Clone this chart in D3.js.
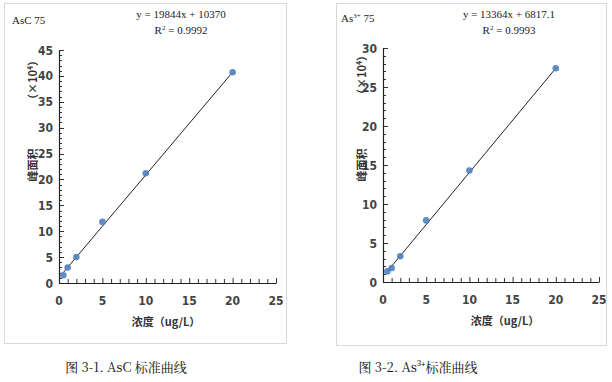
<!DOCTYPE html>
<html><head><meta charset="utf-8">
<script src="https://cdn.jsdelivr.net/npm/d3@7/dist/d3.min.js"></script>
<style>
body{margin:0;background:#fff;}
svg{display:block;}
.tick-lab{font-family:"DejaVu Sans Condensed","DejaVu Sans",sans-serif;font-stretch:condensed;font-size:12px;fill:#444;font-weight:bold;}
.ser{font-family:"Liberation Serif","DejaVu Serif",serif;}
</style></head>
<body>
<svg id="c" width="612" height="382"></svg>
<script>
// ---- data ----
const concentrations = [0.5, 1, 2, 5, 10, 20];
const ascArea = [1.5, 3.0, 5.0, 11.8, 21.2, 40.7];      // ×10^4
const as3Area = [1.36, 1.8, 3.3, 7.9, 14.3, 27.4];     // ×10^4
const ascFit = {slope: 19844, intercept: 10370, r2: "0.9992"};
const as3Fit = {slope: 13364, intercept: 6817.1, r2: "0.9993"};
const xTicks = [0, 5, 10, 15, 20, 25];
const ascYTicks = [0, 5, 10, 15, 20, 25, 30, 35, 40, 45];
const as3YTicks = [0, 5, 10, 15, 20, 25, 30];
const panelTitles = ["AsC 75", "As3+ 75"];
const captions = ["图 3-1. AsC 标准曲线", "图 3-2. As³⁺标准曲线"];

const svg = d3.select("#c");

function panel(cfg) {
  const g = svg.append("g");
  // frame
  g.append("rect").attr("x", cfg.box[0] + 0.5).attr("y", cfg.box[1] + 0.5)
    .attr("width", cfg.box[2]).attr("height", cfg.box[3])
    .attr("fill", "#fff").attr("stroke", "#d9d9d9").attr("stroke-width", 1);

  const x = d3.scaleLinear().domain([0, 25]).range([cfg.x0, cfg.x1]);
  const y = d3.scaleLinear().domain([0, cfg.ymax]).range([cfg.y0, cfg.y1]);

  // minor ticks x
  const minorX = d3.range(0, 26, 1);
  g.append("g").selectAll("line").data(minorX).join("line")
    .attr("x1", d => x(d) + 0.5).attr("x2", d => x(d) + 0.5)
    .attr("y1", cfg.y0).attr("y2", d => cfg.y0 - (d % 5 === 0 ? 5 : 4))
    .attr("stroke", "#333").attr("stroke-width", 1);
  const minorY = d3.range(0, cfg.ymax + 1, 1);
  g.append("g").selectAll("line").data(minorY).join("line")
    .attr("y1", d => Math.round(y(d)) + 0.5).attr("y2", d => Math.round(y(d)) + 0.5)
    .attr("x1", cfg.x0).attr("x2", d => cfg.x0 + (d % 5 === 0 ? 5 : 3))
    .attr("stroke", "#333").attr("stroke-width", 1);

  // axes lines
  g.append("line").attr("x1", cfg.x0).attr("x2", x(25) + 0.5)
    .attr("y1", cfg.y0 + 0.5).attr("y2", cfg.y0 + 0.5).attr("stroke", "#222").attr("stroke-width", 1.2);
  g.append("line").attr("x1", cfg.x0 + 0.5).attr("x2", cfg.x0 + 0.5)
    .attr("y1", cfg.y0 + 0.5).attr("y2", y(cfg.ymax)).attr("stroke", "#222").attr("stroke-width", 1.2);

  // tick labels
  g.append("g").selectAll("text").data(xTicks).join("text")
    .attr("class", "tick-lab").attr("x", d => x(d)).attr("y", cfg.y0 + 22)
    .attr("text-anchor", "middle").text(d => d);
  g.append("g").selectAll("text").data(cfg.yTicks).join("text")
    .attr("class", "tick-lab").attr("x", cfg.x0 - 6).attr("y", d => y(d) + 4.5)
    .attr("text-anchor", "end").text(d => d);

  // trend line
  const fitY = c => (cfg.fit.slope * c + cfg.fit.intercept) / 1e4;
  const cMin = d3.min(concentrations), cMax = d3.max(concentrations);
  g.append("line").attr("x1", x(cMin)).attr("y1", y(fitY(cMin)))
    .attr("x2", x(cMax)).attr("y2", y(fitY(cMax)))
    .attr("stroke", "#222").attr("stroke-width", 1);

  // points
  g.append("g").selectAll("circle").data(concentrations.map((c, i) => [c, cfg.values[i]])).join("circle")
    .attr("cx", d => x(d[0])).attr("cy", d => y(d[1])).attr("r", 3.3)
    .attr("fill", "#4f81bd").attr("fill-opacity", 0.9);

  // panel title
  const t = g.append("text").attr("class", "ser").attr("x", cfg.titlePos[0]).attr("y", cfg.titlePos[1])
    .attr("font-size", 11).attr("fill", "#222");
  if (cfg.sup) {
    t.append("tspan").text("As");
    t.append("tspan").attr("font-size", 7).attr("dy", -4).text("3+");
    t.append("tspan").attr("dy", 4).text(" 75");
  } else {
    t.text(cfg.title);
  }

  // equation
  const eqX = cfg.eqX;
  g.append("text").attr("class", "ser").attr("x", eqX).attr("y", 18).attr("text-anchor", "middle")
    .attr("font-size", 11).attr("fill", "#222").style("font-stretch", "condensed")
    .text(`y = ${cfg.fit.slope}x + ${cfg.fit.intercept}`);
  const r = g.append("text").attr("class", "ser").attr("x", eqX).attr("y", 34).attr("text-anchor", "middle")
    .attr("font-size", 11).attr("fill", "#222");
  r.append("tspan").text("R");
  r.append("tspan").attr("font-size", 7).attr("dy", -4).text("2");
  r.append("tspan").attr("dy", 4).text(` = ${cfg.fit.r2}`);

  // y-axis titles (rotated)
  g.append("text").attr("transform", `translate(${cfg.ytX},${cfg.ytY1}) rotate(-90)`)
    .attr("text-anchor", "middle").attr("font-size", 11).attr("font-weight", "bold")
    .attr("font-family", "'Noto Sans CJK SC',sans-serif").attr("fill", "#333").attr("dy", "0.35em")
    .text("峰面积");
  const u = g.append("text").attr("transform", `translate(${cfg.ytX},${cfg.ytY2}) rotate(-90)`)
    .attr("text-anchor", "middle").attr("font-size", 11).attr("font-weight", "bold")
    .attr("font-family", "'Noto Sans CJK SC',sans-serif").attr("fill", "#333").attr("dy", "0.35em");
  u.append("tspan").text("（×10");
  u.append("tspan").attr("font-size", 7).attr("dy", -4).text("4");
  u.append("tspan").attr("dy", 4).text("）");

  // x-axis title
  g.append("text").attr("x", cfg.xtX).attr("y", cfg.y0 + 43).attr("text-anchor", "middle")
    .attr("font-size", 11).attr("font-weight", "bold").attr("fill", "#333")
    .attr("font-family", "'Noto Sans CJK SC',serif").text("浓度（ug/L）");

  // caption
  g.append("text").attr("x", cfg.capX).attr("y", 372).attr("text-anchor", "middle")
    .attr("font-size", 13).attr("fill", "#111")
    .attr("font-family", "'Noto Serif CJK SC','Liberation Serif','Noto Sans CJK SC',serif").text(cfg.caption);
}

panel({box: [4, 3, 282, 340], x0: 59, x1: 276, y0: 283, y1: 50, ymax: 45,
  yTicks: ascYTicks, values: ascArea, fit: ascFit, title: panelTitles[0], titlePos: [12, 24],
  eqX: 181, ytX: 33, ytY1: 165, ytY2: 80, xtX: 166, capX: 126, caption: captions[0]});
panel({box: [336, 3, 270, 342], x0: 383, x1: 599, y0: 282, y1: 48, ymax: 30,
  yTicks: as3YTicks, values: as3Area, fit: as3Fit, title: panelTitles[1], sup: true, titlePos: [341, 22],
  eqX: 509, ytX: 362, ytY1: 165, ytY2: 75, xtX: 505, capX: 418, caption: captions[1]});
</script>
</body></html>
